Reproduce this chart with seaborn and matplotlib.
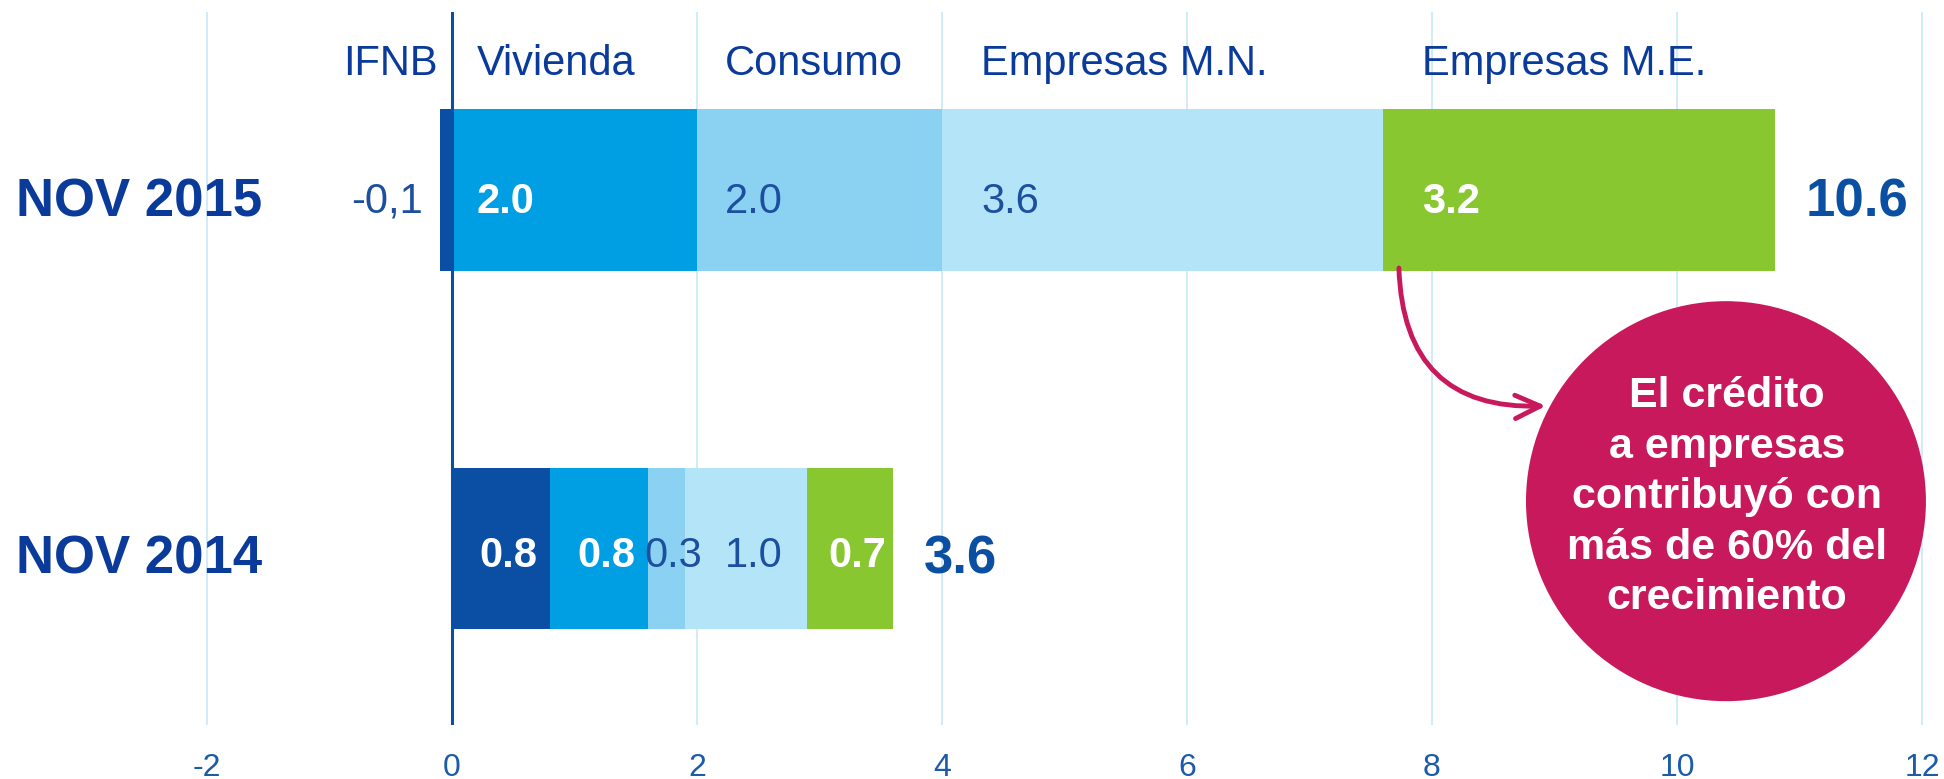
import numpy as np
import pandas as pd
import matplotlib
matplotlib.use("Agg")
import matplotlib.pyplot as plt
import matplotlib.transforms as mtransforms
import seaborn as sns
from matplotlib.patches import Ellipse, FancyArrowPatch

# ---------------- data ----------------
periods = ["NOV 2015", "NOV 2014"]
categories = ["IFNB", "Vivienda", "Consumo", "Empresas M.N.", "Empresas M.E."]
ifnb = [-0.1, 0.8]
vivienda = [2.0, 0.8]
consumo = [2.0, 0.3]
empresas_mn = [3.6, 1.0]
empresas_me = [3.2, 0.7]
totals = [10.6, 3.6]
ifnb_labels = ["-0,1", "0.8"]
x_ticks = [-2, 0, 2, 4, 6, 8, 10, 12]
callout_text = "El crédito\na empresas\ncontribuyó con\nmás de 60% del\ncrecimiento"

# ---------------- style ----------------
sns.set_theme(style="white")
plt.rcParams["font.family"] = ["Liberation Sans", "DejaVu Sans"]

W, H = 1944, 779
fig = plt.figure(figsize=(W / 100, H / 100), dpi=100)
ax = fig.add_axes([0, 1 - 725 / H, 1, (725 - 12) / H])

series = [ifnb, vivienda, consumo, empresas_mn, empresas_me]
colors = ["#0A4FA3", "#009FE3", "#8AD1F2", "#B4E4F7", "#88C730"]
white_text = [True, True, False, False, True]
navy = "#0A3A9A"
val_blue = "#1D4F9F"
total_blue = "#0B4FA3"
magenta = "#C8195D"

pos_cum = np.zeros(len(periods))
neg_cum = np.zeros(len(periods))
lefts_all = []
for vals, col in zip(series, colors):
    vals = np.asarray(vals, float)
    left = np.where(vals >= 0, pos_cum, neg_cum)
    df = pd.DataFrame({"period": periods, "value": vals})
    sns.barplot(data=df, x="value", y="period", orient="h", order=periods,
                color=col, saturation=1, width=0.45, errorbar=None,
                left=left, ax=ax, edgecolor="none", linewidth=0, zorder=2)
    lefts_all.append(left.copy())
    pos_cum = pos_cum + np.where(vals >= 0, vals, 0)
    neg_cum = neg_cum + np.where(vals < 0, vals, 0)

# axes cosmetics
ax.set_xlim(-3.69, 12.18)
ax.set_ylim(1.494, -0.497)
ax.set_xticks(x_ticks)
ax.set_xticklabels([str(t) for t in x_ticks])
ax.set_yticks([])
ax.set_xlabel("")
ax.set_ylabel("")
ax.tick_params(axis="x", length=0, labelsize=23, labelcolor="#1B5BAA", pad=20)
for s in ax.spines.values():
    s.set_visible(False)
ax.grid(axis="x", color="#C8E8F7", lw=1.2)
ax.grid(axis="y", visible=False)
ax.set_axisbelow(True)
ax.axvline(0, color="#0A4FA3", lw=2.2, zorder=4)

# headers and value labels
pads = [0.2, 0.23, 0.32, 0.32]
row_base = [0.064, 1.053]
header_base = -0.321
ax.text(-0.12, header_base, categories[0], ha="right", va="baseline",
        fontsize=30, color=navy)
for k in range(1, len(series)):
    x = lefts_all[k][0] + pads[k - 1]
    ax.text(x, header_base, categories[k], ha="left", va="baseline",
            fontsize=30, color=navy)

for k, vals in enumerate(series):
    for i, v in enumerate(vals):
        txt = ifnb_labels[i] if k == 0 else f"{v:.1f}"
        if white_text[k] and v > 0:
            kw = dict(color="white", fontweight="bold")
        else:
            kw = dict(color=val_blue)
        if v < 0:
            ax.text(lefts_all[k][i] - 0.24, row_base[i], txt, ha="right",
                    va="baseline", fontsize=30, **kw)
        elif i == 0:
            ax.text(lefts_all[k][i] + pads[k - 1], row_base[i], txt, ha="left",
                    va="baseline", fontsize=30, **kw)
        else:
            ax.text(lefts_all[k][i] + v / 2 + 0.06, row_base[i], txt,
                    ha="center", va="baseline", fontsize=30, **kw)

# period labels and totals
tr = mtransforms.blended_transform_factory(ax.transAxes, ax.transData)
big_base = [0.075, 1.07]
for i, p in enumerate(periods):
    ax.text(16 / W, big_base[i], p, transform=tr, ha="left", va="baseline",
            fontsize=38, fontweight="bold", color=navy)
    ax.text(pos_cum[i] + 0.25, big_base[i], f"{totals[i]:.1f}", ha="left",
            va="baseline", fontsize=38, fontweight="bold", color=total_blue)

# callout
ax.add_patch(Ellipse((10.4, 0.869), 3.265, 1.117, color=magenta, zorder=5, lw=0))
ax.text(10.41, 0.858, callout_text, ha="center", va="center", ma="center",
        fontsize=31, fontweight="bold", color="white", linespacing=1.34, zorder=6)
arrow = FancyArrowPatch((7.73, 0.218), (8.93, 0.603),
                        connectionstyle="arc3,rad=0.5",
                        arrowstyle="->,head_length=0.45,head_width=0.21",
                        mutation_scale=40, lw=3.5, color=magenta, zorder=5,
                        shrinkA=0, shrinkB=0)
ax.add_patch(arrow)

fig.savefig("out.png", dpi=100)
